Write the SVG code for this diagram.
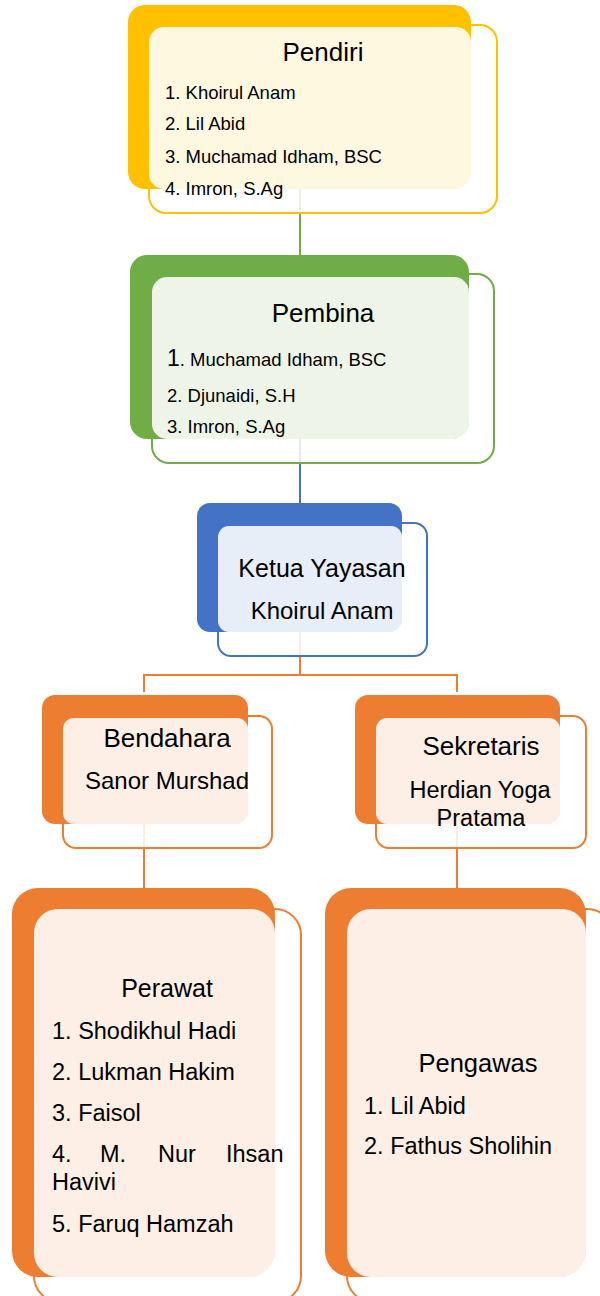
<svg xmlns="http://www.w3.org/2000/svg" width="600" height="1296" viewBox="0 0 600 1296">
<style>
text{font-family:"Liberation Sans",Arial,sans-serif;fill:#000}
.t{text-anchor:middle}
.front{fill:#fff;fill-opacity:0.85;stroke-width:2}
.ov{fill:#fff;fill-opacity:0.88}
.con{fill:none;stroke-width:2}
</style>
<rect width="600" height="1296" fill="#fff"/>
<g id="connectors">
<path class="con" stroke="#70AD47" d="M300 189V255"/>
<path class="con" stroke="#4472C4" d="M300 439V503"/>
<path class="con" stroke="#ED7D31" d="M300 632V675M144 692V675H457V692M144 824V888M457 824V888"/>
</g>
<g id="pendiri">
<rect class="front" stroke="#FFC000" x="149" y="25" width="348" height="188" rx="17"/>
<rect fill="#FFC000" x="128" y="5" width="343" height="184" rx="17"/>
<rect class="ov" x="149" y="27" width="322" height="162" rx="15"/>
<text class="t" x="323" y="61" font-size="26">Pendiri</text>
<text x="165" y="99" font-size="18.5">1. Khoirul Anam</text>
<text x="165" y="130" font-size="18.5">2. Lil Abid</text>
<text x="165" y="163" font-size="18.5">3. Muchamad Idham, BSC</text>
<text x="165" y="195" font-size="18.5">4. Imron, S.Ag</text>
</g>
<g id="pembina">
<rect class="front" stroke="#70AD47" x="152" y="274" width="342" height="189" rx="17"/>
<rect fill="#70AD47" x="130" y="255" width="339" height="184" rx="17"/>
<rect class="ov" x="152" y="277" width="317" height="162" rx="15"/>
<text class="t" x="323" y="322" font-size="26">Pembina</text>
<text x="167" y="366" font-size="18.5"><tspan font-size="23">1</tspan>. Muchamad Idham, BSC</text>
<text x="167" y="402" font-size="18.5">2. Djunaidi, S.H</text>
<text x="167" y="433" font-size="18.5">3. Imron, S.Ag</text>
</g>
<g id="ketua">
<rect class="front" stroke="#4472C4" x="218" y="523" width="209" height="133" rx="13"/>
<rect fill="#4472C4" x="197" y="503" width="205" height="129" rx="13"/>
<rect class="ov" x="218" y="526" width="184" height="106" rx="11"/>
<text class="t" x="322" y="577" font-size="25">Ketua Yayasan</text>
<text class="t" x="322" y="619" font-size="24">Khoirul Anam</text>
</g>
<g id="bendahara">
<rect class="front" stroke="#ED7D31" x="63" y="716" width="209" height="132" rx="13"/>
<rect fill="#ED7D31" x="42" y="695" width="206" height="129" rx="13"/>
<rect class="ov" x="63" y="718" width="185" height="106" rx="11"/>
<text class="t" x="167" y="747" font-size="26">Bendahara</text>
<text class="t" x="167" y="789" font-size="24">Sanor Murshad</text>
</g>
<g id="sekretaris">
<rect class="front" stroke="#ED7D31" x="376" y="716" width="210" height="132" rx="13"/>
<rect fill="#ED7D31" x="355" y="695" width="205" height="129" rx="13"/>
<rect class="ov" x="376" y="718" width="184" height="106" rx="11"/>
<text class="t" x="481" y="755" font-size="26">Sekretaris</text>
<text class="t" x="480" y="798" font-size="23.5">Herdian Yoga</text>
<text class="t" x="481" y="826" font-size="23.5">Pratama</text>
</g>
<g id="perawat">
<rect class="front" stroke="#ED7D31" x="34" y="909" width="267" height="393" rx="26"/>
<rect fill="#ED7D31" x="12" y="888" width="263" height="389" rx="26"/>
<rect class="ov" x="34" y="909" width="241" height="368" rx="24"/>
<text class="t" x="167" y="997" font-size="25">Perawat</text>
<text x="52" y="1039" font-size="23.5">1. Shodikhul Hadi</text>
<text x="52" y="1080" font-size="23.5">2. Lukman Hakim</text>
<text x="52" y="1121" font-size="23.5">3. Faisol</text>
<text y="1162" font-size="23.5"><tspan x="52">4.</tspan><tspan x="100">M.</tspan><tspan x="158">Nur</tspan><tspan x="226">Ihsan</tspan></text>
<text x="52" y="1190" font-size="23.5">Havivi</text>
<text x="52" y="1232" font-size="23.5">5. Faruq Hamzah</text>
</g>
<g id="pengawas">
<rect class="front" stroke="#ED7D31" x="347" y="909" width="266" height="393" rx="26"/>
<rect fill="#ED7D31" x="325" y="888" width="261" height="389" rx="26"/>
<rect class="ov" x="347" y="909" width="239" height="368" rx="24"/>
<text class="t" x="478" y="1072" font-size="25.5">Pengawas</text>
<text x="364" y="1114" font-size="23.5">1. Lil Abid</text>
<text x="364" y="1154" font-size="23.5">2. Fathus Sholihin</text>
</g>
</svg>
